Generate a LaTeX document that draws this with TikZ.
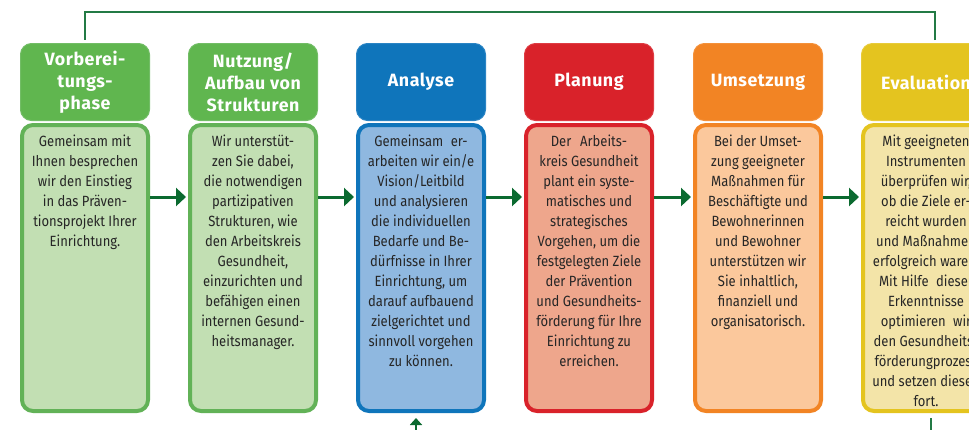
\documentclass[tikz,border=0pt]{standalone}
\usepackage{fontspec}
\setmainfont{Fira Sans}
\newfontfamily\bodyfont{Fira Sans}[FakeStretch=0.88]
\newfontfamily\headfont{Fira Sans}[LetterSpace=3]
\usetikzlibrary{arrows.meta}
\definecolor{gHead}{HTML}{60B64F}
\definecolor{gLine}{HTML}{72BD66}
\definecolor{gBord}{HTML}{62B257}
\definecolor{gFill}{HTML}{C2DFB3}
\definecolor{bHead}{HTML}{0F75BB}
\definecolor{bLine}{HTML}{2A84C4}
\definecolor{bFill}{HTML}{8FB8E0}
\definecolor{rHead}{HTML}{D9222A}
\definecolor{rLine}{HTML}{DE3C43}
\definecolor{rFill}{HTML}{EEA68C}
\definecolor{oHead}{HTML}{F28424}
\definecolor{oLine}{HTML}{F4913A}
\definecolor{oFill}{HTML}{FBC89C}
\definecolor{yHead}{HTML}{E4C41F}
\definecolor{yLine}{HTML}{E8CB3A}
\definecolor{yFill}{HTML}{F3E4A8}
\definecolor{arrowGreen}{HTML}{0B6A30}
\definecolor{fbGreen}{HTML}{237A45}
\definecolor{textGray}{HTML}{262626}
\begin{document}
\begin{tikzpicture}[x=1pt,y=-1pt,
  headbox/.style 2 args={fill=#1, draw=#2, line width=1pt, rounded corners=11pt,
    minimum width=129pt, minimum height=77pt, inner sep=0pt, text=white,
    font=\headfont\bfseries\fontsize{17.8}{22}\selectfont, align=center},
  bodybox/.style 2 args={fill=#1, draw=#2, line width=4pt, rounded corners=11pt,
    minimum width=126pt, minimum height=286pt, inner sep=0pt},
  bodytext/.style={font=\bodyfont\fontsize{14.8}{20}\selectfont, text=textGray,
    align=center, anchor=north, inner sep=0pt},
  flow/.style={draw=arrowGreen, line width=3pt, -{Triangle[length=10pt,width=18pt]}, shorten >=2pt},
  uparrow/.style={draw=arrowGreen, line width=2.5pt, -{Triangle[length=7pt,width=12pt]}, shorten >=5pt},
  fbline/.style={draw=fbGreen, line width=1.5pt}
]
\useasboundingbox (0,0) rectangle (969,429);
\clip (0,0) rectangle (969,429);

% headers
\node[headbox={gHead}{gLine}] (h1) at (85,82) {Vorberei-\\tungs-\\phase};
\node[headbox={gHead}{gLine}] (h2) at (253,82) {Nutzung/\\Aufbau von\\Strukturen};
\node[headbox={bHead}{bLine}] (h3) at (421,82) {Analyse};
\node[headbox={rHead}{rLine}] (h4) at (589,82) {Planung};
\node[headbox={oHead}{oLine}] (h5) at (758,82) {Umsetzung};
\node[headbox={yHead}{yLine}] (h6) at (926,82) {Evaluation};

% bodies
\node[bodybox={gFill}{gBord}] (b1) at (85,268) {};
\node[bodybox={gFill}{gBord}] (b2) at (253,268) {};
\node[bodybox={bFill}{bHead}] (b3) at (421,268) {};
\node[bodybox={rFill}{rHead}] (b4) at (589,268) {};
\node[bodybox={oFill}{oHead}] (b5) at (758,268) {};
\node[bodybox={yFill}{yHead}] (b6) at (926,268) {};

% body texts
\node[bodytext] (t1) at (85,135) {Gemeinsam mit\\Ihnen besprechen\\wir den Einstieg\\in das Präven-\\tionsprojekt Ihrer\\Einrichtung.};
\node[bodytext] (t2) at (253,135) {Wir unterstüt-\\zen Sie dabei,\\die notwendigen\\partizipativen\\Strukturen, wie\\den Arbeitskreis\\Gesundheit,\\einzurichten und\\befähigen einen\\internen Gesund-\\heitsmanager.};
\node[bodytext] (t3) at (421,135) {Gemeinsam\hspace{0.5em}er-\\arbeiten wir ein/e\\Vision/Leitbild\\und analysieren\\die individuellen\\Bedarfe und Be-\\dürfnisse in Ihrer\\Einrichtung, um\\darauf aufbauend\\zielgerichtet und\\sinnvoll vorgehen\\zu können.};
\node[bodytext] (t4) at (589,135) {Der\hspace{0.6em}Arbeits-\\kreis Gesundheit\\plant ein syste-\\matisches und\\strategisches\\Vorgehen, um die\\festgelegten Ziele\\der Prävention\\und Gesundheits-\\förderung für Ihre\\Einrichtung zu\\erreichen.};
\node[bodytext] (t5) at (758,135) {Bei der Umset-\\zung geeigneter\\Maßnahmen für\\Beschäftigte und\\Bewohnerinnen\\und Bewohner\\unterstützen wir\\Sie inhaltlich,\\finanziell und\\organisatorisch.};
\node[bodytext] (t6) at (926,135) {Mit geeigneten\\Instrumenten\\überprüfen wir,\\ob die Ziele er-\\reicht wurden\\und Maßnahmen\\erfolgreich waren.\\Mit Hilfe\hspace{0.5em}dieser\\Erkenntnisse\\optimieren\hspace{0.5em}wir\\den Gesundheits-\\förderungprozess\\und setzen diesen\\fort.};

% flow arrows
\coordinate (ay) at (0,197);
\draw[flow] (b1.east |- ay) -- (b2.west |- ay);
\draw[flow] (b2.east |- ay) -- (b3.west |- ay);
\draw[flow] (b3.east |- ay) -- (b4.west |- ay);
\draw[flow] (b4.east |- ay) -- (b5.west |- ay);
\draw[flow] (b5.east |- ay) -- (b6.west |- ay);

% feedback line on top
\coordinate (fbtop) at (500,12);
\coordinate (fbr) at (935,0);
\draw[fbline, shorten <=3pt, shorten >=3pt] (h6.north -| fbr) |- (fbtop) -| (h1.north);

% bottom feedback
\coordinate (upA) at (416,440);
\draw[uparrow] (upA) -- (b3.south -| upA);
\coordinate (dnB) at (931,440);
\draw[fbline, shorten <=5pt] (b6.south -| dnB) -- (dnB);
\end{tikzpicture}
\end{document}
